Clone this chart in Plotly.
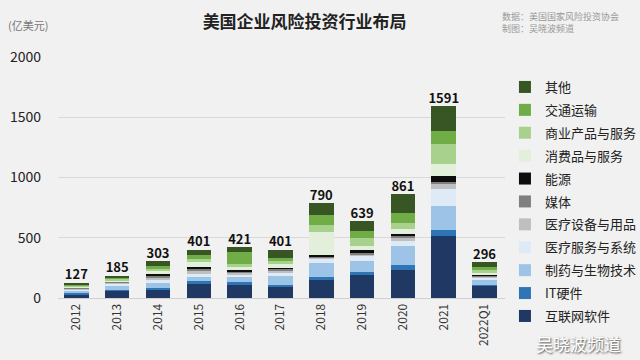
import plotly.graph_objects as go

years = ["2012", "2013", "2014", "2015", "2016", "2017", "2018", "2019", "2020", "2021", "2022Q1"]
totals = [127, 185, 303, 401, 421, 401, 790, 639, 861, 1591, 296]

internet_software = [32, 60, 68, 118, 116, 91, 150, 190, 235, 515, 102]
it_hardware = [8, 10, 14, 19, 14, 19, 25, 28, 41, 50, 8]
pharma_biotech = [20, 32, 41, 41, 47, 69, 115, 91, 152, 201, 41]
healthcare_services = [10, 15, 28, 28, 22, 36, 40, 39, 47, 135, 19]
medical_devices = [8, 10, 19, 14, 11, 14, 8, 17, 22, 41, 8]
media = [5, 6, 17, 28, 11, 14, 8, 11, 19, 22, 8]
energy = [8, 5, 11, 6, 11, 6, 12, 22, 14, 47, 11]
consumer = [8, 10, 22, 44, 22, 33, 193, 36, 41, 99, 14]
business = [8, 10, 22, 28, 28, 22, 55, 61, 55, 165, 22]
transport = [8, 12, 25, 33, 97, 28, 83, 61, 77, 110, 22]
other = [12, 15, 36, 42, 42, 69, 102, 83, 157, 207, 41]

series = [
    ("互联网软件", internet_software, "#1f3864"),
    ("IT硬件", it_hardware, "#2e75b6"),
    ("制药与生物技术", pharma_biotech, "#9dc3e6"),
    ("医疗服务与系统", healthcare_services, "#deebf7"),
    ("医疗设备与用品", medical_devices, "#bfbfbf"),
    ("媒体", media, "#7f7f7f"),
    ("能源", energy, "#0d0d0d"),
    ("消费品与服务", consumer, "#e2efda"),
    ("商业产品与服务", business, "#a9d18e"),
    ("交通运输", transport, "#70ad47"),
    ("其他", other, "#375623"),
]

FONT = "Noto Sans CJK SC"

fig = go.Figure()
for i, (name, vals, color) in enumerate(series):
    fig.add_trace(go.Bar(x=years, y=vals, name=name, legendgroup=name, legendrank=1000 - i,
                         marker=dict(color=color, line=dict(width=0))))

fig.add_trace(go.Scatter(
    x=years, y=totals, mode="text", text=[str(t) for t in totals],
    textposition="top center", textfont=dict(family=FONT, size=13, color="#111111", weight="bold"),
    showlegend=False, hoverinfo="skip", cliponaxis=False,
))

fig.update_layout(
    width=640, height=360,
    barmode="stack", bargap=0.4,
    paper_bgcolor="#f1f1f1", plot_bgcolor="#f1f1f1",
    margin=dict(l=58, r=125, t=57, b=62),
    font=dict(family=FONT, size=12, color="#222222"),
    title=dict(text="<b>美国企业风险投资行业布局</b>", x=0.476, xanchor="center", y=0.94, yanchor="middle",
               font=dict(family=FONT, size=17, color="#222222")),
    legend=dict(traceorder="grouped", xref="container", yref="container", x=0.789, xanchor="left",
                y=0.80, yanchor="top", maxheight=340,
                font=dict(family=FONT, size=13, color="#222222"), bgcolor="rgba(0,0,0,0)",
                itemwidth=30, tracegroupgap=3),
    xaxis=dict(type="category", range=[-0.45, 10.5], tickangle=-90, tickfont=dict(size=12, color="#333333"),
               showgrid=False, showline=True, linecolor="#d0d0d0", ticks="", automargin=False),
    yaxis=dict(range=[0, 2000], dtick=500, showgrid=True, gridcolor="#d9d9d9", zeroline=False,
               tickfont=dict(size=14, color="#222222"), ticks="", ticklabelstandoff=16, automargin=False),
    annotations=[
        dict(text="(亿美元)", xref="paper", yref="paper", x=-0.116, y=1.133, xanchor="left",
             yanchor="middle", showarrow=False, font=dict(size=11, color="#777777")),
        dict(text="数据：美国国家风险投资协会<br>制图：吴晓波频道", xref="paper", yref="paper",
             x=0.989, y=1.203, xanchor="left", yanchor="top", align="left", showarrow=False,
             font=dict(size=9, color="#999999")),
        dict(text="吴晓波频道", xref="paper", yref="paper", x=1.263, y=-0.249, xanchor="right",
             yanchor="bottom", showarrow=False,
             font=dict(size=17, color="#ffffff", shadow="1px 1px 2px #444")),
    ],
)

fig.write_html("out.html", config={"displayModeBar": False},
               post_script="document.body.style.margin='0';")
